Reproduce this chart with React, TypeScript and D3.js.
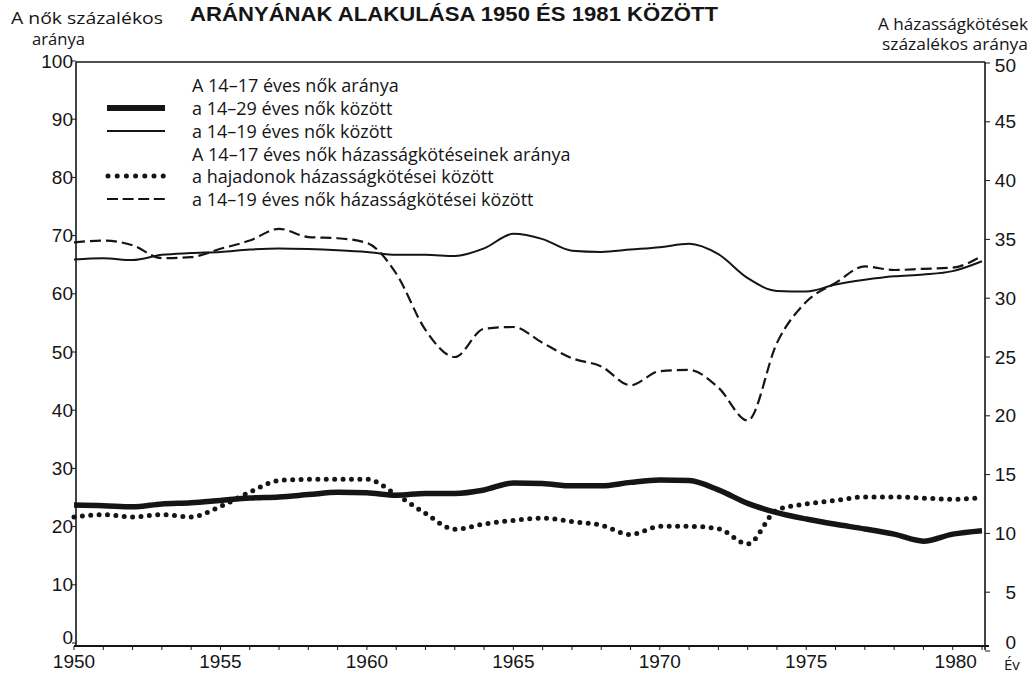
import React from "react";
import * as d3 from "d3";

// ---- data ----
const years = [1950, 1951, 1952, 1953, 1954, 1955, 1956, 1957, 1958, 1959, 1960, 1961, 1962, 1963, 1964, 1965, 1966, 1967, 1968, 1969, 1970, 1971, 1972, 1973, 1974, 1975, 1976, 1977, 1978, 1979, 1980, 1981];

// A 14-17 éves nők aránya a 14-29 éves nők között (left axis, %)
const women1429 = [23.7, 23.6, 23.4, 23.9, 24.1, 24.5, 24.9, 25.1, 25.5, 25.9, 25.8, 25.4, 25.7, 25.7, 26.3, 27.5, 27.4, 27.0, 27.0, 27.6, 28.0, 27.9, 26.3, 24.0, 22.4, 21.3, 20.4, 19.6, 18.7, 17.5, 18.7, 19.3];

// A 14-17 éves nők aránya a 14-19 éves nők között (left axis, %)
const women1419 = [65.9, 66.1, 65.8, 66.7, 67.0, 67.2, 67.6, 67.8, 67.7, 67.5, 67.2, 66.7, 66.7, 66.5, 67.8, 70.3, 69.4, 67.4, 67.2, 67.6, 68.0, 68.6, 66.8, 62.7, 60.5, 60.4, 61.6, 62.4, 63.0, 63.3, 63.9, 65.6];

// A 14-17 éves nők házasságkötéseinek aránya a hajadonok házasságkötései között (right axis, %)
const marriagesSpinsters = [11.4, 11.6, 11.4, 11.6, 11.4, 12.3, 13.5, 14.5, 14.6, 14.6, 14.6, 13.3, 11.7, 10.35, 10.8, 11.1, 11.3, 11.0, 10.7, 9.9, 10.6, 10.6, 10.4, 9.1, 12.0, 12.5, 12.8, 13.1, 13.1, 13.0, 12.9, 13.05];

// ... a 14-19 éves nők házasságkötései között (right axis, %)
const marriages1419 = [34.75, 34.9, 34.5, 33.4, 33.5, 34.2, 34.9, 35.9, 35.2, 35.1, 34.7, 32.1, 27.3, 25.0, 27.4, 27.55, 26.2, 24.9, 24.2, 22.6, 23.8, 23.9, 22.4, 19.6, 26.2, 29.7, 31.3, 32.7, 32.4, 32.5, 32.6, 33.6];

const leftTicks = [0, 10, 20, 30, 40, 50, 60, 70, 80, 90, 100];
const rightTicks = [0, 5, 10, 15, 20, 25, 30, 35, 40, 45, 50];
const xLabelYears = [1950, 1955, 1960, 1965, 1970, 1975, 1980];

const titleText = "ARÁNYÁNAK ALAKULÁSA 1950 ÉS 1981 KÖZÖTT";
const leftTitle = ["A nők százalékos", "aránya"];
const rightTitle = ["A házasságkötések", "százalékos aránya"];
const legendLines = [
  "A 14–17 éves nők aránya",
  "a 14–29 éves nők között",
  "a 14–19 éves nők között",
  "A 14–17 éves nők házasságkötéseinek aránya",
  "a hajadonok házasságkötései között",
  "a 14–19 éves nők házasságkötései között",
];

const W = 1031;
const H = 674;
const INK = "#151515";
const TEXT_FONT = "'Open Sans', 'DejaVu Sans', sans-serif";
const NUM_FONT = "'Liberation Sans', Arial, sans-serif";

export default function App() {
  const x = d3.scaleLinear().domain([1950, 1981]).range([74, 982]);
  const yL = d3.scaleLinear().domain([0, 100]).range([643, 61]);
  const yR = d3.scaleLinear().domain([0, 50]).range([651, 63]);

  const axisLeftX = 76;
  const axisRightX = 985;
  const topY = 62;
  const bottomY = 646;

  const lineL = d3
    .line<number>()
    .x((_, i) => x(years[i]))
    .y((d) => yL(d))
    .curve(d3.curveMonotoneX);
  const lineR = d3
    .line<number>()
    .x((_, i) => x(years[i]))
    .y((d) => yR(d))
    .curve(d3.curveMonotoneX);

  const legendY = [85, 108, 131, 153.5, 176, 199];
  const legendX0 = 107;
  const legendX1 = 165;
  const legendTextX = 192;

  return (
    <svg
      width={W}
      height={H}
      viewBox={`0 0 ${W} ${H}`}
      style={{ position: "absolute", left: 0, top: 0, background: "#fff" }}
    >
      <rect x={0} y={0} width={W} height={H} fill="#fff" />

      {/* title */}
      <text
        x={190}
        y={21}
        fontFamily={NUM_FONT}
        fontWeight="bold"
        fontSize={21}
        fill={INK}
        textLength={528}
        lengthAdjust="spacingAndGlyphs"
      >
        {titleText}
      </text>

      {/* axis titles */}
      <text
        x={11}
        y={24}
        fontFamily={TEXT_FONT}
        fontSize={16.5}
        fill={INK}
        textLength={152}
        lengthAdjust="spacingAndGlyphs"
      >
        {leftTitle[0]}
      </text>
      <text
        x={32}
        y={45}
        fontFamily={TEXT_FONT}
        fontSize={16.5}
        fill={INK}
        textLength={53}
        lengthAdjust="spacingAndGlyphs"
      >
        {leftTitle[1]}
      </text>
      <text
        x={1028}
        y={30}
        textAnchor="end"
        fontFamily={TEXT_FONT}
        fontSize={15.5}
        fill={INK}
        textLength={150}
        lengthAdjust="spacingAndGlyphs"
      >
        {rightTitle[0]}
      </text>
      <text
        x={1028}
        y={50}
        textAnchor="end"
        fontFamily={TEXT_FONT}
        fontSize={15.5}
        fill={INK}
        textLength={146}
        lengthAdjust="spacingAndGlyphs"
      >
        {rightTitle[1]}
      </text>

      {/* frame */}
      <line x1={axisLeftX} x2={axisRightX} y1={topY} y2={topY} stroke={INK} strokeWidth={1.4} />
      <line x1={axisLeftX} x2={axisLeftX} y1={topY} y2={bottomY} stroke={INK} strokeWidth={1.6} />
      <line x1={axisRightX} x2={axisRightX} y1={topY} y2={bottomY + 4} stroke={INK} strokeWidth={1.6} />
      <line x1={axisLeftX - 2} x2={axisRightX + 4} y1={bottomY} y2={bottomY} stroke={INK} strokeWidth={1.8} />

      {/* left axis */}
      {leftTicks.map((t) => (
        <g key={"l" + t}>
          <line x1={axisLeftX - 4} x2={axisLeftX} y1={yL(t)} y2={yL(t)} stroke={INK} strokeWidth={1} />
          <text
            x={axisLeftX - 3}
            y={yL(t) + (t === 0 ? -6 : 0)}
            textAnchor="end"
            dominantBaseline="central"
            fontFamily={NUM_FONT}
            fontSize={19}
            fill={INK}
          >
            {t}
          </text>
        </g>
      ))}

      {/* right axis */}
      {rightTicks.map((t) => (
        <g key={"r" + t}>
          <line x1={axisRightX} x2={axisRightX + 5} y1={yR(t)} y2={yR(t)} stroke={INK} strokeWidth={1} />
          <text
            x={1016}
            y={yR(t) + (t === 0 ? -9 : t === 50 ? 2 : 0)}
            textAnchor="end"
            dominantBaseline="central"
            fontFamily={NUM_FONT}
            fontSize={19}
            fill={INK}
          >
            {t}
          </text>
        </g>
      ))}

      {/* x axis */}
      {years.map((yr) => (
        <line key={"t" + yr} x1={x(yr)} x2={x(yr)} y1={bottomY} y2={bottomY + 4} stroke={INK} strokeWidth={1} />
      ))}
      {xLabelYears.map((yr) => (
        <text
          key={"x" + yr}
          x={x(yr) + (yr === 1980 ? 3 : 0)}
          y={668}
          textAnchor="middle"
          fontFamily={NUM_FONT}
          fontSize={19}
          fill={INK}
        >
          {yr}
        </text>
      ))}
      <text x={1004} y={670} fontFamily={TEXT_FONT} fontSize={15} fill={INK}>
        Év
      </text>

      {/* series */}
      <path d={lineL(women1419) || ""} fill="none" stroke={INK} strokeWidth={2} />
      <path d={lineL(women1429) || ""} fill="none" stroke={INK} strokeWidth={5.5} strokeLinejoin="round" />
      <path
        d={lineR(marriages1419) || ""}
        fill="none"
        stroke={INK}
        strokeWidth={2.2}
        strokeDasharray="11 5"
      />
      <path
        d={lineR(marriagesSpinsters) || ""}
        fill="none"
        stroke={INK}
        strokeWidth={5}
        strokeLinecap="round"
        strokeDasharray="0 8.4"
      />

      {/* legend */}
      <line x1={legendX0} x2={legendX1} y1={legendY[1]} y2={legendY[1]} stroke={INK} strokeWidth={6} />
      <line x1={legendX0} x2={legendX1} y1={legendY[2]} y2={legendY[2]} stroke={INK} strokeWidth={2} />
      <line
        x1={legendX0 + 1}
        x2={legendX1}
        y1={legendY[4]}
        y2={legendY[4]}
        stroke={INK}
        strokeWidth={5}
        strokeLinecap="round"
        strokeDasharray="0 9.2"
      />
      <line
        x1={legendX0}
        x2={legendX1}
        y1={legendY[5]}
        y2={legendY[5]}
        stroke={INK}
        strokeWidth={2.2}
        strokeDasharray="11 4.6"
      />
      {legendLines.map((s, i) => (
        <text
          key={"lg" + i}
          x={legendTextX}
          y={legendY[i]}
          dominantBaseline="central"
          fontFamily={TEXT_FONT}
          fontSize={18}
          fill={INK}
        >
          {s}
        </text>
      ))}
    </svg>
  );
}
